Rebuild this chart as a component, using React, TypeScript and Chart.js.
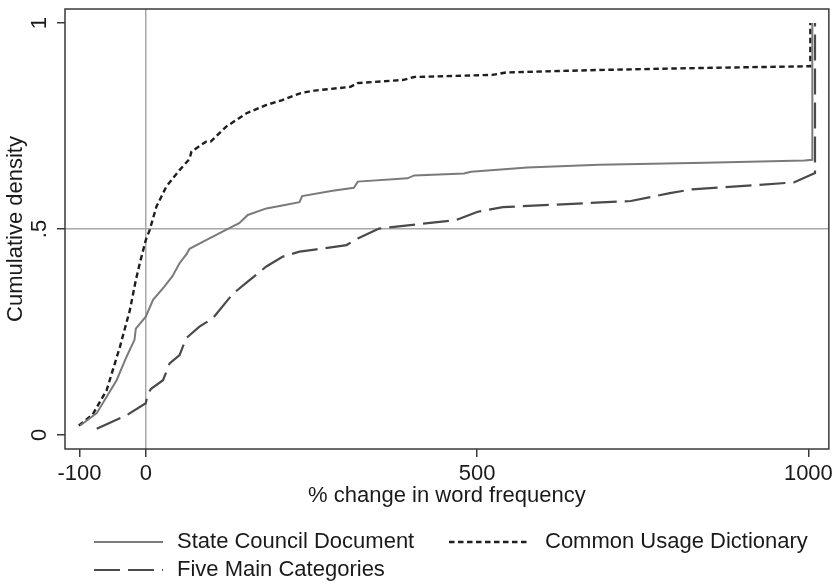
import React, { useEffect, useRef } from "react";
import { Chart, registerables } from "chart.js";

Chart.register(...registerables);

// ---------- data ----------
const seriesLabels = [
  "State Council Document",
  "Common Usage Dictionary",
  "Five Main Categories",
];

const stateCouncilX = [
  -99, -74, -59, -44, -29, -17, -15, 0, 11, 28, 40, 51, 62, 66, 91, 121, 141,
  154, 182, 202, 232, 236, 282, 314, 320, 395, 405, 480, 491, 576, 684, 844,
  994, 1006, 1006,
];
const stateCouncilY = [
  0.023, 0.053, 0.093, 0.133, 0.19, 0.231, 0.258, 0.287, 0.328, 0.36, 0.385,
  0.417, 0.44, 0.452, 0.473, 0.498, 0.514, 0.534, 0.55, 0.556, 0.565, 0.58,
  0.593, 0.6, 0.615, 0.623, 0.63, 0.635, 0.639, 0.649, 0.656, 0.661, 0.666,
  0.668, 1.0,
];

const dictionaryX = [
  -101, -80, -59, -39, -24, -15, -9, 0, 6, 16, 31, 51, 66, 69, 91, 98, 121,
  152, 182, 206, 234, 255, 309, 319, 389, 405, 523, 544, 684, 844, 1000, 1003,
  1003,
];
const dictionaryY = [
  0.023, 0.05, 0.109, 0.214, 0.303, 0.376, 0.417, 0.473, 0.498, 0.554, 0.603,
  0.643, 0.67, 0.688, 0.712, 0.712, 0.748, 0.781, 0.801, 0.813, 0.83, 0.836,
  0.845, 0.854, 0.862, 0.869, 0.874, 0.88, 0.886, 0.891, 0.895, 0.895, 1.0,
];

const categoriesX = [
  -74, -29, 0, 3, 8, 26, 36, 51, 61, 81, 101, 131, 152, 182, 207, 232, 255,
  303, 320, 352, 469, 501, 539, 732, 791, 823, 978, 1010, 1010,
];
const categoriesY = [
  0.015, 0.048, 0.077, 0.1, 0.112, 0.133, 0.174, 0.194, 0.235, 0.263, 0.283,
  0.342, 0.37, 0.409, 0.433, 0.445, 0.45, 0.461, 0.477, 0.501, 0.522, 0.542,
  0.553, 0.568, 0.587, 0.596, 0.613, 0.636, 1.0,
];

const xTickValues = [-100, 0, 500, 1000];
const xTickLabels = ["-100", "0", "500", "1000"];
const yTickValues = [0, 0.5, 1];
const yTickLabels = ["0", ".5", "1"];
const xTitle = "% change in word frequency";
const yTitle = "Cumulative density";

// ---------- styling ----------
const FONT = "'Liberation Sans', Arial, Helvetica, sans-serif";
const TEXT = "#1a1a1a";
const FRAME = "#3a3a3a";
const REF = "#a8a8a8";

const toPoints = (xs: number[], ys: number[]) =>
  xs.map((x, i) => ({ x, y: ys[i] }));

const overlayPlugin = {
  id: "overlay",
  afterDraw(chart: any) {
    const { ctx, chartArea: a, scales } = chart;
    ctx.save();
    // frame
    ctx.setLineDash([]);
    ctx.strokeStyle = FRAME;
    ctx.lineWidth = 1.5;
    ctx.strokeRect(a.left, a.top, a.right - a.left, a.bottom - a.top);

    // rotated y tick labels
    ctx.fillStyle = TEXT;
    ctx.font = `22px ${FONT}`;
    ctx.textAlign = "center";
    ctx.textBaseline = "middle";
    yTickValues.forEach((v, i) => {
      const py = scales.y.getPixelForValue(v);
      ctx.save();
      ctx.translate(40, py);
      ctx.rotate(-Math.PI / 2);
      ctx.fillText(yTickLabels[i], 0, 0);
      ctx.restore();
    });

    // legend
    const slots = [
      { ds: 0, x0: 94, x1: 163, tx: 177, y: 542 },
      { ds: 1, x0: 449, x1: 527, tx: 545, y: 542 },
      { ds: 2, x0: 94, x1: 163, tx: 177, y: 570 },
    ];
    ctx.textAlign = "left";
    slots.forEach((s) => {
      const ds = chart.data.datasets[s.ds];
      ctx.beginPath();
      ctx.setLineDash(ds.borderDash || []);
      ctx.strokeStyle = ds.borderColor;
      ctx.lineWidth = ds.borderWidth;
      ctx.moveTo(s.x0, s.y);
      ctx.lineTo(s.x1, s.y);
      ctx.stroke();
      ctx.setLineDash([]);
      ctx.fillStyle = TEXT;
      ctx.fillText(ds.label, s.tx, s.y);
    });
    ctx.restore();
  },
};

export default function App() {
  const canvasRef = useRef<HTMLCanvasElement | null>(null);

  useEffect(() => {
    if (!canvasRef.current) return;
    const chart = new Chart(canvasRef.current, {
      type: "line",
      data: {
        datasets: [
          {
            label: seriesLabels[0],
            data: toPoints(stateCouncilX, stateCouncilY),
            borderColor: "#7a7a7a",
            borderWidth: 2,
            borderDash: [],
            pointRadius: 0,
            tension: 0,
            fill: false,
          },
          {
            label: seriesLabels[1],
            data: toPoints(dictionaryX, dictionaryY),
            borderColor: "#1e1e1e",
            borderWidth: 2.4,
            borderDash: [5.5, 3.5],
            pointRadius: 0,
            tension: 0,
            fill: false,
          },
          {
            label: seriesLabels[2],
            data: toPoints(categoriesX, categoriesY),
            borderColor: "#4a4a4a",
            borderWidth: 2.2,
            borderDash: [26, 8],
            pointRadius: 0,
            tension: 0,
            fill: false,
          },
        ],
      },
      options: {
        animation: false,
        responsive: false,
        parsing: false as any,
        layout: { padding: { top: 9, right: 6, left: 0, bottom: 0 } },
        plugins: {
          legend: { display: false },
          tooltip: { enabled: false },
        },
        scales: {
          x: {
            type: "linear",
            min: -121.9,
            max: 1030.9,
            afterBuildTicks: (s: any) => {
              s.ticks = xTickValues.map((v) => ({ value: v }));
            },
            afterFit: (s: any) => {
              s.height = 138;
            },
            border: { display: false },
            grid: {
              color: (c: any) =>
                c.tick && c.tick.value === 0 ? REF : "rgba(0,0,0,0)",
              lineWidth: 1.5,
              tickColor: FRAME,
              tickLength: 8,
              drawOnChartArea: true,
            },
            ticks: {
              autoSkip: false,
              maxRotation: 0,
              minRotation: 0,
              padding: 4,
              color: TEXT,
              font: { size: 22, family: FONT },
              callback: (v: any) => {
                const i = xTickValues.indexOf(Number(v));
                return i >= 0 ? xTickLabels[i] : "";
              },
            },
            title: {
              display: true,
              text: xTitle,
              color: TEXT,
              font: { size: 22, family: FONT },
              padding: { top: 0, bottom: 78 },
            },
          },
          y: {
            type: "linear",
            min: -0.034,
            max: 1.034,
            afterBuildTicks: (s: any) => {
              s.ticks = yTickValues.map((v) => ({ value: v }));
            },
            afterFit: (s: any) => {
              s.width = 65;
            },
            border: { display: false },
            grid: {
              color: (c: any) =>
                c.tick && c.tick.value === 0.5 ? REF : "rgba(0,0,0,0)",
              lineWidth: 1.5,
              tickColor: FRAME,
              tickLength: 8,
              drawOnChartArea: true,
            },
            ticks: { display: false },
            title: {
              display: true,
              text: yTitle,
              color: TEXT,
              font: { size: 22, family: FONT },
              padding: { top: 3, bottom: 0 },
            },
          },
        },
      },
      plugins: [overlayPlugin],
    });
    return () => chart.destroy();
  }, []);

  return (
    <div
      style={{
        position: "absolute",
        left: 0,
        top: 0,
        width: 837,
        height: 587,
        background: "#fff",
      }}
    >
      <canvas
        ref={canvasRef}
        width={837}
        height={587}
        style={{ width: 837, height: 587, display: "block" }}
      />
    </div>
  );
}
